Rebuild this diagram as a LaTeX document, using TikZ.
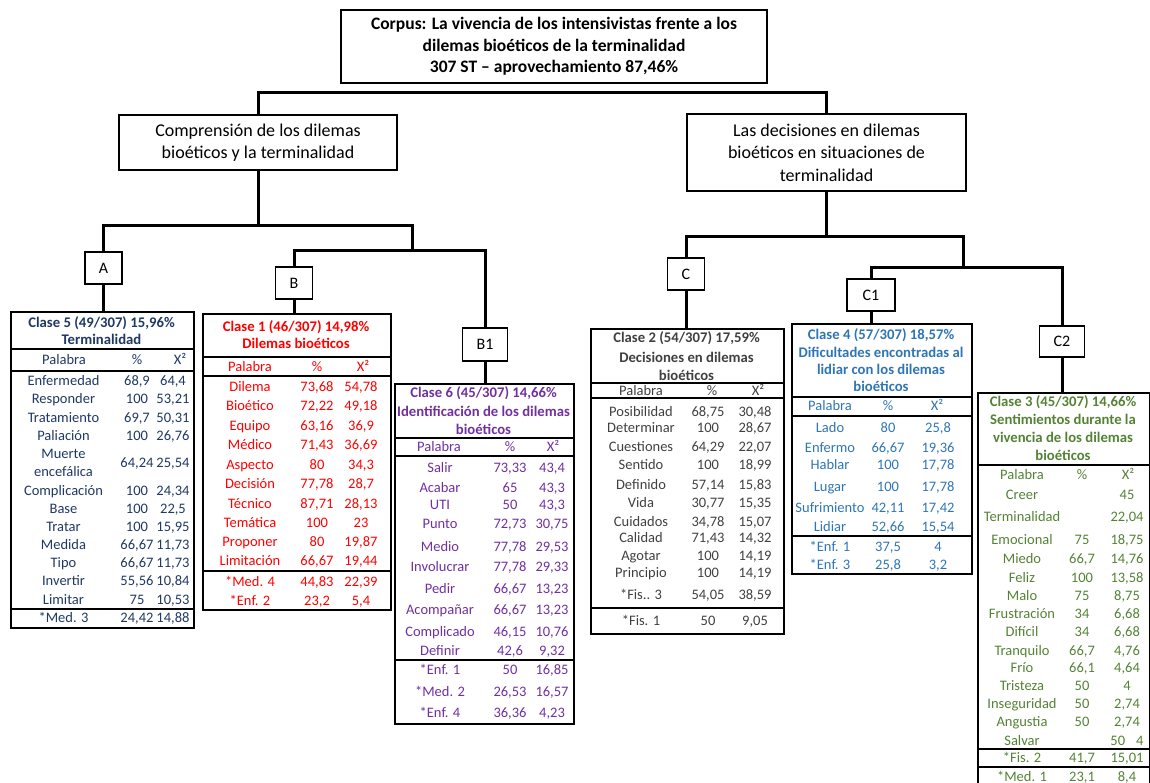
\documentclass[tikz,border=0pt]{standalone}
\usepackage{fontspec}
\setmainfont{Carlito}
\definecolor{cfive}{RGB}{31,56,100}
\definecolor{cone}{RGB}{255,0,0}
\definecolor{csix}{RGB}{112,48,160}
\definecolor{ctwo}{RGB}{64,64,64}
\definecolor{cfour}{RGB}{46,117,182}
\definecolor{cthree}{RGB}{84,130,53}
\newcommand\colW{0}
\newcommand\colP{0}
\newcommand\colX{0}
\newcommand\trow[6]{%
  \node[cell] (#1w#2) at (\colW,#3) {#4};
  \node[cell] (#1p#2) at (\colP,#3) {#5};
  \node[cell] (#1x#2) at (\colX,#3) {#6};}
\tikzset{
  box/.style={draw, line width=1.3pt, align=center, inner sep=0pt},
  bigbox/.style={box, font=\fontsize{18}{22.5}\selectfont},
  letter/.style={box, font=\fontsize{16}{19}\selectfont},
  conn/.style={line width=3pt, line join=miter},
  tab/.style={draw, line width=1.6pt, anchor=north west, inner sep=0pt},
  sep/.style={line width=1.6pt},
  cell/.style={inner sep=0pt, text height=10pt, text depth=1pt, font=\fontsize{14.5}{17}\selectfont},
  ttl/.style={cell, font=\bfseries\fontsize{14.7}{17}\selectfont},
}
\begin{document}
\begin{tikzpicture}[x=1pt,y=-1pt]
\useasboundingbox (0,0) rectangle (1150,783);

% ---------- upper boxes ----------
\node[box, minimum width=426pt, minimum height=73pt,
      font=\bfseries\fontsize{17.5}{21.5}\selectfont] (top) at (554,46.5)
  {Corpus: La vivencia de los intensivistas frente a los\\dilemas bioéticos de la terminalidad\\307 ST – aprovechamiento 87,46\%};
\node[bigbox, minimum width=278pt, minimum height=55pt] (comp) at (258,142.5)
  {Comprensión de los dilemas\\bioéticos y la terminalidad};
\node[bigbox, minimum width=279pt, minimum height=77pt] (dec) at (826.5,152.5)
  {Las decisiones en dilemas\\bioéticos en situaciones de\\terminalidad};

% ---------- letter boxes ----------
\node[letter, minimum width=37pt, minimum height=32pt] (A) at (103.5,268) {A};
\node[letter, minimum width=37pt, minimum height=32pt] (B) at (294,283) {B};
\node[letter, minimum width=45pt, minimum height=33pt] (B1) at (485,344.5) {B1};
\node[letter, minimum width=37pt, minimum height=32pt] (C) at (686,274) {C};
\node[letter, minimum width=48pt, minimum height=32pt] (C1) at (871,295) {C1};
\node[letter, minimum width=45pt, minimum height=31pt] (C2) at (1062,341.5) {C2};

% ---------- tables (frames) ----------
\node[tab, minimum width=183pt, minimum height=316pt] (T5) at (10,311) {};
\node[tab, minimum width=188pt, minimum height=296pt] (T1) at (202,313) {};
\node[tab, minimum width=179pt, minimum height=340pt] (T6) at (394,383) {};
\node[tab, minimum width=193pt, minimum height=305pt] (T2) at (590,328) {};
\node[tab, minimum width=180pt, minimum height=250pt] (T4) at (791,323) {};
\node[tab, minimum width=172pt, minimum height=400pt] (T3) at (977,392) {};

% ---------- connectors ----------
\coordinate (j0) at (541,93);
\draw[conn] (comp.north) |- (j0) -| (dec.north);
\coordinate (j1) at (258,226);
\coordinate (kB) at (412,251);
\draw[conn] (comp.south) -- (j1);
\draw[conn] (A.north) |- (kB |- j1) -- (kB);
\draw[conn] (B.north) |- (kB) -| (B1.north);
\draw[conn] (A.south) -- (A.south |- T5.north);
\draw[conn] (B.south) -- (B.south |- T1.north);
\draw[conn] (B1.south) -- (B1.south |- T6.north);
\coordinate (j2) at (826.5,237);
\coordinate (kC) at (963,268);
\draw[conn] (dec.south) -- (j2);
\draw[conn] (C.north) |- (kC |- j2) -- (kC);
\draw[conn] (C1.north) |- (kC) -| (C2.north);
\draw[conn] (C.south) -- (C.south |- T2.north);
\draw[conn] (C1.south) -- (C1.south |- T4.north);
\draw[conn] (C2.south) -- (C2.south |- T3.north);

% ---------- Clase 5 ----------
\draw[sep] (10,349) -- (193,349);
\draw[sep] (10,371) -- (193,371);
\draw[sep] (10,609) -- (193,609);
\begin{scope}[every node/.append style={text=cfive}]
\node[ttl] (t5a) at (101.5,323) {Clase 5 (49/307) 15,96\%};
\node[ttl] (t5b) at (101.5,340) {Terminalidad};
\node[cell] (t5hw) at (64,360) {Palabra};
\node[cell] (t5hp) at (137,360) {\%};
\node[cell] (t5hx) at (180,360) {X²};
\renewcommand\colW{63.5}\renewcommand\colP{137}\renewcommand\colX{173}
\trow{t5}{1}{381}{Enfermedad}{68,9}{64,4}
\trow{t5}{2}{399}{Responder}{100}{53,21}
\trow{t5}{3}{418}{Tratamiento}{69,7}{50,31}
\trow{t5}{4}{436}{Paliación}{100}{26,76}
\node[cell] (t5w5) at (63.5,454) {Muerte};
\node[cell] (t5w5b) at (63.5,472) {encefálica};
\node[cell] (t5p5) at (137,463) {64,24};
\node[cell] (t5x5) at (173,463) {25,54};
\trow{t5}{6}{491}{Complicación}{100}{24,34}
\trow{t5}{7}{509}{Base}{100}{22,5}
\trow{t5}{8}{527}{Tratar}{100}{15,95}
\trow{t5}{9}{545}{Medida}{66,67}{11,73}
\trow{t5}{10}{563}{Tipo}{66,67}{11,73}
\trow{t5}{11}{581}{Invertir}{55,56}{10,84}
\trow{t5}{12}{600}{Limitar}{75}{10,53}
\trow{t5}{13}{618}{*Med. 3}{24,42}{14,88}
\end{scope}

% ---------- Clase 1 ----------
\draw[sep] (202,357) -- (390,357);
\draw[sep] (202,376) -- (390,376);
\draw[sep] (202,571) -- (390,571);
\begin{scope}[every node/.append style={text=cone}]
\node[ttl] (t1a) at (296,327) {Clase 1 (46/307) 14,98\%};
\node[ttl] (t1b) at (296,344) {Dilemas bioéticos};
\node[cell] (t1hw) at (250,367) {Palabra};
\node[cell] (t1hp) at (317,367) {\%};
\node[cell] (t1hx) at (363,367) {X²};
\renewcommand\colW{250}\renewcommand\colP{317}\renewcommand\colX{361}
\trow{t1}{1}{387}{Dilema}{73,68}{54,78}
\trow{t1}{2}{406}{Bioético}{72,22}{49,18}
\trow{t1}{3}{426}{Equipo}{63,16}{36,9}
\trow{t1}{4}{445}{Médico}{71,43}{36,69}
\trow{t1}{5}{465}{Aspecto}{80}{34,3}
\trow{t1}{6}{484}{Decisión}{77,78}{28,7}
\trow{t1}{7}{504}{Técnico}{87,71}{28,13}
\trow{t1}{8}{523}{Temática}{100}{23}
\trow{t1}{9}{542}{Proponer}{80}{19,87}
\trow{t1}{10}{561}{Limitación}{66,67}{19,44}
\trow{t1}{11}{582}{*Med. 4}{44,83}{22,39}
\trow{t1}{12}{601}{*Enf. 2}{23,2}{5,4}
\end{scope}

% ---------- Clase 6 ----------
\draw[sep] (394,438) -- (573,438);
\draw[sep] (394,456) -- (573,456);
\draw[sep] (394,660) -- (573,660);
\begin{scope}[every node/.append style={text=csix}]
\node[ttl] (t6a) at (483.5,393) {Clase 6 (45/307) 14,66\%};
\node[ttl] (t6b) at (483.5,412) {Identificación de los dilemas};
\node[ttl] (t6c) at (483.5,430) {bioéticos};
\node[cell] (t6hw) at (439,447) {Palabra};
\node[cell] (t6hp) at (510,447) {\%};
\node[cell] (t6hx) at (553,447) {X²};
\renewcommand\colW{440}\renewcommand\colP{510}\renewcommand\colX{552}
\trow{t6}{1}{468}{Salir}{73,33}{43,4}
\trow{t6}{2}{488}{Acabar}{65}{43,3}
\trow{t6}{3}{505}{UTI}{50}{43,3}
\trow{t6}{4}{524}{Punto}{72,73}{30,75}
\trow{t6}{5}{547}{Medio}{77,78}{29,53}
\trow{t6}{6}{567}{Involucrar}{77,78}{29,33}
\trow{t6}{7}{589}{Pedir}{66,67}{13,23}
\trow{t6}{8}{610}{Acompañar}{66,67}{13,23}
\trow{t6}{9}{632}{Complicado}{46,15}{10,76}
\trow{t6}{10}{651}{Definir}{42,6}{9,32}
\trow{t6}{11}{670}{*Enf. 1}{50}{16,85}
\trow{t6}{12}{692}{*Med. 2}{26,53}{16,57}
\trow{t6}{13}{713}{*Enf. 4}{36,36}{4,23}
\end{scope}

% ---------- Clase 2 ----------
\draw[sep] (590,383) -- (783,383);
\draw[sep] (590,398) -- (783,398);
\draw[sep] (590,608) -- (783,608);
\begin{scope}[every node/.append style={text=ctwo}]
\node[ttl] (t2a) at (686.5,338) {Clase 2 (54/307) 17,59\%};
\node[ttl] (t2b) at (686.5,358) {Decisiones en dilemas};
\node[ttl] (t2c) at (686.5,376) {bioéticos};
\node[cell] (t2hw) at (641,391) {Palabra};
\node[cell] (t2hp) at (712,391) {\%};
\node[cell] (t2hx) at (758,391) {X²};
\renewcommand\colW{641}\renewcommand\colP{708}\renewcommand\colX{755}
\trow{t2}{1}{412}{Posibilidad}{68,75}{30,48}
\trow{t2}{2}{428}{Determinar}{100}{28,67}
\trow{t2}{3}{447}{Cuestiones}{64,29}{22,07}
\trow{t2}{4}{465}{Sentido}{100}{18,99}
\trow{t2}{5}{485}{Definido}{57,14}{15,83}
\trow{t2}{6}{503}{Vida}{30,77}{15,35}
\trow{t2}{7}{522}{Cuidados}{34,78}{15,07}
\trow{t2}{8}{538}{Calidad}{71,43}{14,32}
\trow{t2}{9}{556}{Agotar}{100}{14,19}
\trow{t2}{10}{573}{Principio}{100}{14,19}
\trow{t2}{11}{595}{*Fis.. 3}{54,05}{38,59}
\trow{t2}{12}{621}{*Fis. 1}{50}{9,05}
\end{scope}

% ---------- Clase 4 ----------
\draw[sep] (791,397) -- (971,397);
\draw[sep] (791,416) -- (971,416);
\draw[sep] (791,536) -- (971,536);
\begin{scope}[every node/.append style={text=cfour}]
\node[ttl] (t4a) at (881,335) {Clase 4 (57/307) 18,57\%};
\node[ttl] (t4b) at (881,353) {Dificultades encontradas al};
\node[ttl] (t4c) at (881,370) {lidiar con los dilemas};
\node[ttl] (t4d) at (881,387) {bioéticos};
\node[cell] (t4hw) at (830,406) {Palabra};
\node[cell] (t4hp) at (888,406) {\%};
\node[cell] (t4hx) at (937,406) {X²};
\renewcommand\colW{830}\renewcommand\colP{888}\renewcommand\colX{938}
\trow{t4}{1}{428}{Lado}{80}{25,8}
\trow{t4}{2}{448}{Enfermo}{66,67}{19,36}
\trow{t4}{3}{465}{Hablar}{100}{17,78}
\trow{t4}{4}{487}{Lugar}{100}{17,78}
\trow{t4}{5}{508}{Sufrimiento}{42,11}{17,42}
\trow{t4}{6}{527}{Lidiar}{52,66}{15,54}
\trow{t4}{7}{547}{*Enf. 1}{37,5}{4}
\trow{t4}{8}{565}{*Enf. 3}{25,8}{3,2}
\end{scope}

% ---------- Clase 3 ----------
\draw[sep] (977,465) -- (1149,465);
\draw[sep] (977,749) -- (1149,749);
\draw[sep] (977,767) -- (1149,767);
\begin{scope}[every node/.append style={text=cthree}]
\node[ttl] (t3a) at (1063,402) {Clase 3 (45/307) 14,66\%};
\node[ttl] (t3b) at (1063,420) {Sentimientos durante la};
\node[ttl] (t3c) at (1063,438) {vivencia de los dilemas};
\node[ttl] (t3d) at (1063,456) {bioéticos};
\node[cell] (t3hw) at (1022,475) {Palabra};
\node[cell] (t3hp) at (1082,475) {\%};
\node[cell] (t3hx) at (1128,475) {X²};
\renewcommand\colW{1022}\renewcommand\colP{1082}\renewcommand\colX{1127}
\trow{t3}{1}{495}{Creer}{}{45}
\trow{t3}{2}{517}{Terminalidad}{}{22,04}
\trow{t3}{3}{540}{Emocional}{75}{18,75}
\trow{t3}{4}{559}{Miedo}{66,7}{14,76}
\trow{t3}{5}{578}{Feliz}{100}{13,58}
\trow{t3}{6}{596}{Malo}{75}{8,75}
\trow{t3}{7}{614}{Frustración}{34}{6,68}
\trow{t3}{8}{632}{Difícil}{34}{6,68}
\trow{t3}{9}{651}{Tranquilo}{66,7}{4,76}
\trow{t3}{10}{668}{Frío}{66,1}{4,64}
\trow{t3}{11}{686}{Tristeza}{50}{4}
\trow{t3}{12}{704}{Inseguridad}{50}{2,74}
\trow{t3}{13}{722}{Angustia}{50}{2,74}
\trow{t3}{14}{741}{Salvar}{}{50\hspace{11pt}4}
\trow{t3}{15}{758}{*Fis. 2}{41,7}{15,01}
\trow{t3}{16}{777}{*Med. 1}{23,1}{8,4}
\end{scope}
\end{tikzpicture}
\end{document}
